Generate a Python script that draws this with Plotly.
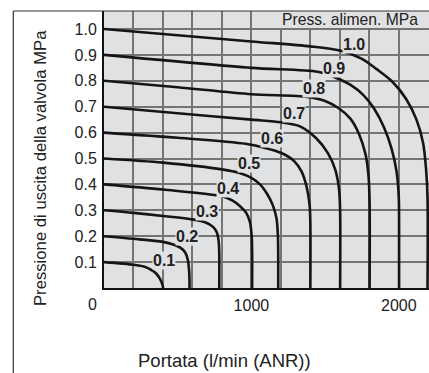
import plotly.graph_objects as go

# ---- data ----
supply_labels = ["0.1", "0.2", "0.3", "0.4", "0.5", "0.6", "0.7", "0.8", "0.9", "1.0"]

flow_01 = [0, 200, 270, 320, 355, 380, 395, 400, 400]
pres_01 = [0.1, 0.09, 0.083, 0.07, 0.055, 0.035, 0.015, 0.005, 0]

flow_02 = [0, 200, 400, 470, 520, 550, 568, 577, 580, 580]
pres_02 = [0.2, 0.19, 0.178, 0.168, 0.155, 0.138, 0.11, 0.07, 0.03, 0]

flow_03 = [0, 200, 400, 600, 690, 740, 765, 778, 782, 782]
pres_03 = [0.3, 0.29, 0.278, 0.265, 0.253, 0.236, 0.215, 0.18, 0.13, 0]

flow_04 = [0, 400, 800, 870, 925, 965, 990, 1002, 1005, 1005]
pres_04 = [0.4, 0.38, 0.354, 0.338, 0.315, 0.29, 0.255, 0.2, 0.13, 0]

flow_05 = [0, 400, 800, 920, 1000, 1060, 1110, 1145, 1170, 1180, 1182, 1182]
pres_05 = [0.5, 0.484, 0.458, 0.444, 0.425, 0.399, 0.36, 0.32, 0.27, 0.2, 0.12, 0]

flow_06 = [0, 500, 960, 1100, 1200, 1290, 1340, 1375, 1395, 1400, 1400]
pres_06 = [0.6, 0.58, 0.557, 0.54, 0.522, 0.49, 0.45, 0.39, 0.32, 0.25, 0]

flow_07 = [0, 500, 1000, 1200, 1330, 1440, 1520, 1570, 1595, 1602, 1602]
pres_07 = [0.7, 0.675, 0.65, 0.64, 0.624, 0.578, 0.52, 0.455, 0.38, 0.3, 0]

flow_08 = [0, 500, 1000, 1380, 1500, 1590, 1670, 1730, 1775, 1795, 1802, 1802]
pres_08 = [0.8, 0.775, 0.748, 0.738, 0.722, 0.695, 0.655, 0.595, 0.515, 0.43, 0.33, 0]

flow_09 = [0, 1000, 1450, 1560, 1670, 1760, 1830, 1900, 1950, 1985, 2000, 2002, 2002]
pres_09 = [0.9, 0.85, 0.835, 0.815, 0.785, 0.745, 0.695, 0.62, 0.54, 0.45, 0.35, 0.25, 0]

flow_10 = [0, 1000, 1400, 1600, 1750, 1850, 1950, 2050, 2120, 2165, 2185, 2195, 2195]
pres_10 = [1.0, 0.952, 0.933, 0.917, 0.885, 0.845, 0.80, 0.73, 0.65, 0.56, 0.46, 0.35, 0]

label_flow = [407, 561, 702, 838, 986, 1137, 1286, 1428, 1558, 1699]
label_pres = [0.107, 0.197, 0.296, 0.386, 0.479, 0.576, 0.672, 0.769, 0.849, 0.942]

x_tickvals = [1000, 2000]
x_ticktext = ["1000", "2000"]
y_tickvals = [0.1, 0.2, 0.3, 0.4, 0.5, 0.6, 0.7, 0.8, 0.9, 1.0]
y_ticktext = ["0.1", "0.2", "0.3", "0.4", "0.5", "0.6", "0.7", "0.8", "0.9", "1.0"]

y_title = "Pressione di uscita della valvola MPa"
x_title = "Portata (l/min (ANR))"
legend_title = "Press. alimen. MPa"

flows = [flow_01, flow_02, flow_03, flow_04, flow_05, flow_06, flow_07, flow_08, flow_09, flow_10]
press = [pres_01, pres_02, pres_03, pres_04, pres_05, pres_06, pres_07, pres_08, pres_09, pres_10]

FONT = "Liberation Sans, Arial, sans-serif"
BG = "#e0e1e3"
GRID = "#747474"
TXT = "#222"

fig = go.Figure()
for name, fx, py in zip(supply_labels, flows, press):
    fig.add_trace(go.Scatter(
        x=fx, y=py, mode="lines", name=name,
        line=dict(color="#151515", width=2.6, shape="spline", smoothing=0.8),
        hoverinfo="skip", showlegend=False,
    ))

for name, fx, py in zip(supply_labels, label_flow, label_pres):
    fig.add_annotation(x=fx, y=py, xref="x", yref="y", text=f"<b>{name}</b>",
                       xanchor="center", yanchor="middle",
                       showarrow=False, bgcolor=BG, borderpad=0,
                       font=dict(family=FONT, size=16, color=TXT))

# legend title box (covers grid at the top right)
fig.add_shape(type="rect", xref="x", yref="y", x0=1090, x1=2300, y0=1.004, y1=1.07,
              fillcolor=BG, line=dict(width=0), layer="between")
fig.add_annotation(x=1668, y=1.038, xref="x", yref="y", text=legend_title,
                   xanchor="center", yanchor="middle",
                   showarrow=False, font=dict(family=FONT, size=15.7, color=TXT))

# outer frame lines
fig.add_shape(type="line", xref="paper", yref="paper", x0=-0.279, x1=1.0, y0=1.0, y1=1.0,
              line=dict(color="#333", width=1.2))
fig.add_shape(type="line", xref="paper", yref="paper", x0=-0.279, x1=-0.279, y0=1.0, y1=-0.32,
              line=dict(color="#333", width=1.2))

# axis titles and origin label
fig.add_annotation(xref="paper", yref="paper", x=-0.197, y=0.433, text=y_title,
                   xanchor="center", yanchor="middle", textangle=-90, showarrow=False,
                   font=dict(family=FONT, size=16.7, color=TXT))
fig.add_annotation(xref="paper", yref="paper", x=0.372, y=-0.263, text=x_title,
                   xanchor="center", yanchor="middle", showarrow=False,
                   font=dict(family=FONT, size=18.5, color=TXT))
fig.add_annotation(xref="paper", yref="paper", x=-0.034, y=-0.061, text="0",
                   xanchor="center", yanchor="middle", showarrow=False,
                   font=dict(family=FONT, size=16, color=TXT))

fig.update_xaxes(range=[0, 2205], tickvals=x_tickvals, ticktext=x_ticktext,
                 showgrid=True, gridcolor=GRID, gridwidth=1.5,
                 minor=dict(dtick=200, tick0=0, showgrid=True, gridcolor=GRID, gridwidth=1.5),
                 showline=True, linecolor="#111", linewidth=2, zeroline=False,
                 ticks="", ticklabelstandoff=2,
                 tickfont=dict(family=FONT, size=16, color=TXT))
fig.update_yaxes(range=[0, 1.0695], tickvals=y_tickvals, ticktext=y_ticktext,
                 showgrid=True, gridcolor=GRID, gridwidth=1.5,
                 showline=True, linecolor="#111", linewidth=2, zeroline=False,
                 ticks="", ticklabelstandoff=2,
                 tickfont=dict(family=FONT, size=16, color=TXT))

fig.update_layout(width=429, height=373, margin=dict(l=104, r=0, t=11, b=85),
                  plot_bgcolor=BG, paper_bgcolor="white", showlegend=False)

fig.write_html("out.html")
